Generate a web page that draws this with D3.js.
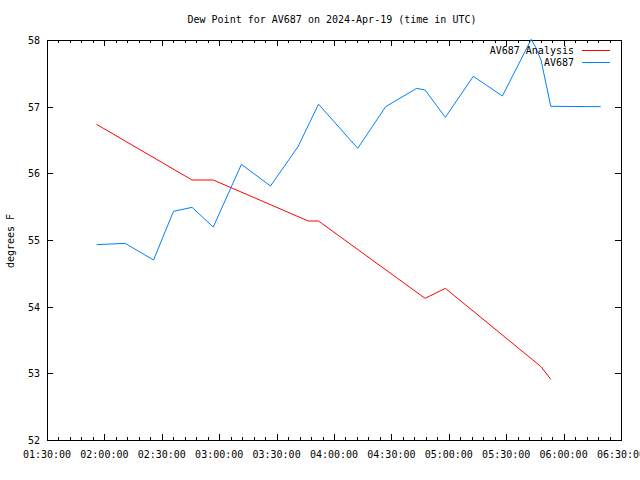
<!DOCTYPE html>
<html><head><meta charset="utf-8">
<script src="https://cdn.jsdelivr.net/npm/d3@7"></script>
<style>
body{margin:0;background:#fff;}
text{font-family:"DejaVu Sans Mono",monospace;font-size:10px;fill:#000;}
</style></head>
<body>
<svg id="c" width="640" height="480"></svg>
<script>
const title = "Dew Point for AV687 on 2024-Apr-19 (time in UTC)";
const yLabel = "degrees F";
const obsTimes = ["01:55:54","02:03:24","02:10:48","02:25:42","02:36:06","02:45:48","02:56:54","03:11:36","03:26:48","03:41:12","03:51:54","04:12:24","04:27:00","04:43:12","04:47:36","04:58:12","05:12:48","05:28:00","05:43:06","05:45:24","05:48:12","05:53:18","06:19:24"];
const obsValues = [54.93,54.94,54.95,54.70,55.43,55.49,55.195,56.135,55.81,56.40,57.037,56.375,57.0,57.275,57.25,56.84,57.455,57.16,58.01,57.89,57.70,57.005,57.0];
const anaTimes = ["01:55:54","02:45:48","02:56:54","03:46:36","03:51:54","04:47:36","04:58:12","05:48:12","05:53:18"];
const anaValues = [56.735,55.9,55.9,55.285,55.285,54.125,54.275,53.10,52.91];
const xTickLabels = ["01:30:00","02:00:00","02:30:00","03:00:00","03:30:00","04:00:00","04:30:00","05:00:00","05:30:00","06:00:00","06:30:00"];
const yTicks = [52,53,54,55,56,57,58];
const seriesNames = ["AV687 Analysis","AV687"];
const seriesColors = ["#ff0000","#0080ff"];

const parse = d3.utcParse("%Y-%m-%d %H:%M:%S");
const T = s => parse("2024-04-19 " + s);
const svg = d3.select("#c");
const L = 47, R = 621, Tp = 40, B = 440;
const x = d3.scaleUtc().domain([T("01:30:00"), T("06:30:00")]).range([L, R]);
const y = d3.scaleLinear().domain([52, 58]).range([B, Tp]);

svg.append("text").attr("x", 332).attr("y", 23).attr("text-anchor", "middle").text(title);

const majors = xTickLabels.map(T);
const minors = d3.utcMinute.every(6).range(T("01:30:00"), T("06:30:01"));

const g = svg.append("g");
minors.forEach(t => {
  const px = Math.round(x(t)) + 0.5;
  g.append("line").attr("x1", px).attr("x2", px).attr("y1", B).attr("y2", B - 3).attr("stroke", "#000");
  g.append("line").attr("x1", px).attr("x2", px).attr("y1", Tp).attr("y2", Tp + 3).attr("stroke", "#000");
});
majors.forEach((t, i) => {
  const px = Math.round(x(t)) + 0.5;
  g.append("line").attr("x1", px).attr("x2", px).attr("y1", B).attr("y2", B - 6).attr("stroke", "#000");
  g.append("line").attr("x1", px).attr("x2", px).attr("y1", Tp).attr("y2", Tp + 6).attr("stroke", "#000");
  g.append("text").attr("x", x(t)).attr("y", 458).attr("text-anchor", "middle").text(xTickLabels[i]);
});
yTicks.forEach(v => {
  const py = Math.round(y(v)) + 0.5;
  g.append("line").attr("x1", L).attr("x2", L + 6).attr("y1", py).attr("y2", py).attr("stroke", "#000");
  g.append("line").attr("x1", R).attr("x2", R - 6).attr("y1", py).attr("y2", py).attr("stroke", "#000");
  g.append("text").attr("x", 40).attr("y", y(v) + 4).attr("text-anchor", "end").text(v);
});
svg.append("rect").attr("x", L + 0.5).attr("y", Tp + 0.5).attr("width", R - L).attr("height", B - Tp)
  .attr("fill", "none").attr("stroke", "#000");

svg.append("text").attr("transform", "translate(14,241) rotate(-90)").attr("text-anchor", "middle").text(yLabel);

svg.append("clipPath").attr("id", "clip").append("rect").attr("x", L).attr("y", Tp - 1).attr("width", R - L).attr("height", B - Tp + 2);

const line = d3.line().x(d => x(d[0])).y(d => y(d[1]));
const ana = anaTimes.map((t, i) => [T(t), anaValues[i]]);
const obs = obsTimes.map((t, i) => [T(t), obsValues[i]]);
const lg = svg.append("g").attr("clip-path", "url(#clip)");
lg.append("path").attr("d", line(ana)).attr("fill", "none").attr("stroke", seriesColors[0]).attr("stroke-width", 1);
lg.append("path").attr("d", line(obs)).attr("fill", "none").attr("stroke", seriesColors[1]).attr("stroke-width", 1);

seriesNames.forEach((n, i) => {
  const ly = 49.5 + i * 12.5;
  svg.append("text").attr("x", 574).attr("y", ly + 4).attr("text-anchor", "end").text(n);
  svg.append("line").attr("x1", 582).attr("x2", 610).attr("y1", Math.round(ly) + 0.5).attr("y2", Math.round(ly) + 0.5)
    .attr("stroke", seriesColors[i]).attr("stroke-width", 1);
});
</script>
</body></html>
